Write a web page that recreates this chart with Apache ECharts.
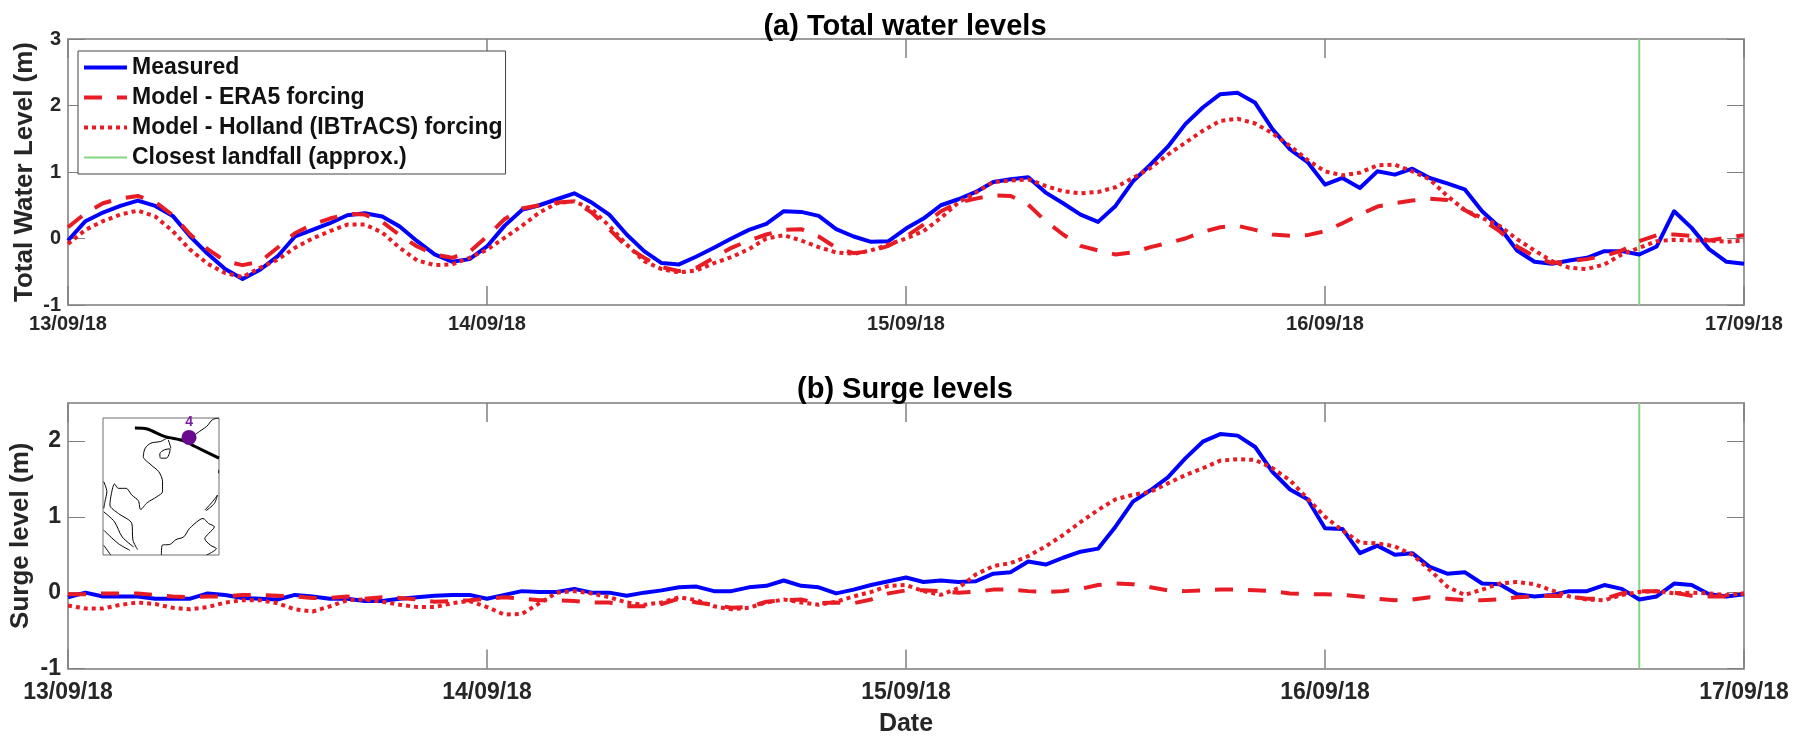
<!DOCTYPE html>
<html><head><meta charset="utf-8">
<style>html,body{margin:0;padding:0;background:#fff}#c{width:1800px;height:737px}</style>
<script src="https://cdn.jsdelivr.net/npm/echarts@6/dist/echarts.min.js"></script>
</head><body><div id="c"></div>
<script>
const tickLabels = ['13/09/18','14/09/18','15/09/18','16/09/18','17/09/18'];
const landfallHour = 90;
const measuredA = [-0.03,0.26,0.39,0.49,0.57,0.49,0.34,0.03,-0.23,-0.46,-0.61,-0.47,-0.27,0.03,0.13,0.23,0.35,0.38,0.33,0.18,-0.04,-0.24,-0.35,-0.31,-0.12,0.19,0.43,0.5,0.59,0.68,0.54,0.36,0.06,-0.19,-0.37,-0.39,-0.27,-0.14,0,0.13,0.22,0.41,0.4,0.34,0.14,0.03,-0.05,-0.04,0.15,0.3,0.5,0.59,0.7,0.85,0.89,0.92,0.69,0.53,0.36,0.25,0.49,0.86,1.11,1.38,1.72,1.97,2.17,2.19,2.04,1.64,1.34,1.15,0.81,0.91,0.76,1.01,0.96,1.05,0.91,0.83,0.74,0.41,0.17,-0.18,-0.35,-0.38,-0.33,-0.29,-0.19,-0.19,-0.24,-0.12,0.41,0.16,-0.16,-0.35,-0.38];
const era5A = [0.17,0.38,0.53,0.6,0.64,0.55,0.35,0.06,-0.16,-0.34,-0.4,-0.35,-0.14,0.08,0.21,0.3,0.37,0.36,0.25,0.05,-0.12,-0.24,-0.29,-0.2,0.03,0.29,0.45,0.5,0.54,0.56,0.39,0.14,-0.12,-0.29,-0.43,-0.49,-0.44,-0.29,-0.14,-0.03,0.06,0.13,0.14,0.03,-0.14,-0.22,-0.19,-0.11,0.03,0.21,0.41,0.54,0.6,0.65,0.64,0.51,0.26,0.06,-0.11,-0.18,-0.24,-0.21,-0.13,-0.07,0,0.1,0.17,0.19,0.13,0.06,0.04,0.05,0.11,0.23,0.36,0.48,0.53,0.57,0.6,0.58,0.43,0.28,0.11,-0.12,-0.27,-0.37,-0.34,-0.31,-0.26,-0.18,-0.04,0.05,0.06,0.04,-0.03,0.01,0.05];
const hollandA = [-0.08,0.13,0.26,0.36,0.42,0.33,0.11,-0.17,-0.38,-0.52,-0.58,-0.44,-0.32,-0.14,0,0.11,0.21,0.21,0.09,-0.14,-0.33,-0.4,-0.39,-0.29,-0.17,0.01,0.19,0.39,0.53,0.56,0.44,0.19,-0.09,-0.34,-0.46,-0.51,-0.48,-0.37,-0.28,-0.16,0,0.05,-0.03,-0.13,-0.21,-0.23,-0.18,-0.09,0,0.11,0.31,0.54,0.69,0.85,0.87,0.89,0.79,0.71,0.68,0.7,0.77,0.91,1.06,1.26,1.44,1.62,1.77,1.8,1.73,1.58,1.39,1.18,1.01,0.95,0.99,1.1,1.11,1.01,0.89,0.64,0.43,0.31,0.19,-0.01,-0.18,-0.34,-0.44,-0.46,-0.39,-0.24,-0.14,-0.04,-0.02,-0.03,-0.03,-0.05,-0.03];
const measuredB = [-0.06,0,-0.05,-0.05,-0.05,-0.08,-0.08,-0.08,-0.01,-0.03,-0.07,-0.08,-0.09,-0.03,-0.05,-0.08,-0.08,-0.11,-0.11,-0.08,-0.06,-0.04,-0.03,-0.03,-0.08,-0.03,0.02,0.01,0.01,0.05,0,0,-0.04,0,0.03,0.07,0.08,0.02,0.02,0.07,0.09,0.16,0.09,0.07,-0.01,0.04,0.1,0.15,0.2,0.14,0.16,0.14,0.15,0.25,0.27,0.41,0.37,0.46,0.54,0.58,0.87,1.2,1.35,1.52,1.77,1.99,2.09,2.07,1.92,1.59,1.36,1.23,0.85,0.84,0.52,0.62,0.5,0.52,0.34,0.25,0.27,0.12,0.11,-0.02,-0.05,-0.03,0.02,0.02,0.1,0.05,-0.09,-0.05,0.12,0.1,-0.02,-0.05,-0.02];
const era5B = [-0.02,-0.02,-0.01,-0.01,-0.01,-0.03,-0.05,-0.06,-0.05,-0.05,-0.03,-0.03,-0.04,-0.05,-0.07,-0.07,-0.05,-0.08,-0.06,-0.07,-0.09,-0.12,-0.11,-0.1,-0.08,-0.06,-0.08,-0.1,-0.1,-0.11,-0.13,-0.13,-0.18,-0.18,-0.15,-0.08,-0.13,-0.16,-0.2,-0.19,-0.12,-0.1,-0.09,-0.14,-0.13,-0.14,-0.09,-0.01,0.03,0.03,0.02,0,0.01,0.04,0.04,0.02,0.01,0.02,0.05,0.1,0.12,0.11,0.07,0.03,0.02,0.03,0.04,0.04,0.03,0.02,-0.01,-0.02,-0.02,-0.03,-0.05,-0.08,-0.1,-0.09,-0.06,-0.08,-0.1,-0.1,-0.09,-0.06,-0.05,-0.04,-0.05,-0.08,-0.08,-0.01,0.02,0.02,0,-0.04,-0.05,-0.05,-0.01];
const hollandB = [-0.17,-0.21,-0.21,-0.16,-0.13,-0.15,-0.2,-0.22,-0.19,-0.13,-0.1,-0.1,-0.14,-0.22,-0.25,-0.18,-0.1,-0.09,-0.12,-0.16,-0.19,-0.19,-0.14,-0.11,-0.19,-0.29,-0.28,-0.14,0,0.02,-0.01,-0.06,-0.13,-0.16,-0.13,-0.06,-0.1,-0.18,-0.22,-0.2,-0.13,-0.09,-0.13,-0.16,-0.12,-0.05,0.01,0.09,0.1,0.02,-0.03,0.06,0.24,0.35,0.39,0.48,0.61,0.76,0.93,1.09,1.23,1.29,1.33,1.44,1.55,1.64,1.74,1.76,1.75,1.64,1.48,1.24,1,0.82,0.66,0.65,0.61,0.5,0.3,0.08,-0.03,0.04,0.12,0.14,0.11,0.03,-0.05,-0.09,-0.1,-0.03,0.01,0.02,-0.01,0,-0.01,-0.03,-0.01];
const mapCoast = [[572,115],[555,120],[540,140],[515,160],[505,170],[480,180],[440,175],[420,185],[395,190],[380,205],[375,230],[395,255],[415,275],[425,305],[425,335],[410,350],[385,368],[368,388],[362,362],[345,345],[330,325],[310,325],[300,312],[292,340],[288,375],[310,400],[345,430],[348,480],[360,508]];
const mapHainan = [[445,207],[430,210],[418,222],[420,235],[435,235],[443,220],[445,207]];
const mapStrait = [[440,180],[447,205]];
const mapWest1 = [[272,305],[280,335],[275,365],[272,385]];
const mapWest2 = [[272,395],[300,425],[320,470],[350,500]];
const mapWest3 = [[272,450],[310,490],[340,510]];
const mapWest4 = [[272,495],[290,524]];
const mapBorneo = [[422,524],[424,495],[445,492],[460,478],[480,470],[495,445],[520,420],[530,415],[545,430],[560,440],[545,460],[535,475],[550,495],[565,505],[540,524]];
const mapPalawan = [[535,390],[555,365],[568,345],[560,370],[538,392]];
const mapEdge = [[571,270],[571,280]];
const mapTrack = [[353,145],[385,148],[430,170],[480,183],[510,200],[572,235]];
const mapStation = [[494,173]];

const FONT = '"Liberation Sans", Arial, sans-serif';
const TXT = '#262626', BOX = '#9c9c9c', TICK = '#808080';
const BLUE = '#0000ff', RED = '#e81c24', GREEN = '#83d683';
const pts = a => a.map((v, i) => [i, v]);

function panel(g, yMin, yMax, labelSize, nameText, nameSize, nameGap, xName, xMargin) {
  const axisBase = {gridIndex: g, splitLine: {show: false}};
  const yTicks = [-1,0,1,2,3].filter(v => v <= yMax);
  return {
    x: [
      {...axisBase, type: 'value', position: 'bottom', min: 0, max: 96, interval: 24,
       axisLine: {show: true, onZero: false, lineStyle: {color: BOX, width: 2}},
       axisTick: {show: true, inside: true, length: 19, lineStyle: {color: TICK, width: 1.5}},
       axisLabel: {show: true, margin: xMargin, hideOverlap: false, showMinLabel: true, showMaxLabel: true, fontFamily: FONT, fontWeight: 'bold', fontSize: labelSize, color: TXT,
         formatter: v => tickLabels[v / 24]},
       name: xName || '', nameLocation: 'middle', nameGap: 43,
       nameTextStyle: {fontFamily: FONT, fontWeight: 'bold', fontSize: 25, color: TXT}},
      {...axisBase, type: 'value', position: 'top', min: 0, max: 96, interval: 24,
       axisLine: {show: true, onZero: false, lineStyle: {color: BOX, width: 2}},
       axisTick: {show: true, inside: true, length: 19, lineStyle: {color: TICK, width: 1.5}},
       axisLabel: {show: false}}
    ],
    y: [
      {...axisBase, type: 'value', position: 'left', min: yMin, max: yMax,
       axisLine: {show: true, onZero: false, lineStyle: {color: BOX, width: 2}},
       axisTick: {show: true, inside: true, length: 17, customValues: yTicks, lineStyle: {color: TICK, width: 1}},
       axisLabel: {show: true, margin: 7, customValues: yTicks, fontFamily: FONT, fontWeight: 'bold', fontSize: labelSize, color: TXT},
       name: nameText, nameLocation: 'middle', nameGap: nameGap, nameMoveOverlap: false,
       nameTextStyle: {fontFamily: FONT, fontWeight: 'bold', fontSize: nameSize, color: TXT}},
      {...axisBase, type: 'value', position: 'right', min: yMin, max: yMax,
       axisLine: {show: true, onZero: false, lineStyle: {color: BOX, width: 2}},
       axisTick: {show: true, inside: true, length: 17, customValues: yTicks, lineStyle: {color: TICK, width: 1}},
       axisLabel: {show: false}}
    ]
  };
}
const pa = panel(0, -1, 3, 20, 'Total Water Level (m)', 26, 30, '', 9);
const pb = panel(1, -1, 2.5, 23, 'Surge level (m)', 26, 34, 'Date', 13);

function line(name, data, idx, style, z) {
  return {name, type: 'line', data: pts(data), xAxisIndex: idx * 2, yAxisIndex: idx * 2,
    showSymbol: false, symbol: 'none', smooth: false, lineStyle: style, z, silent: true};
}
const mStyle = {color: BLUE, width: 4, join: 'round'};
const eStyle = {color: RED, width: 4, type: [18, 15]};
const hStyle = {color: RED, width: 4, type: [4, 4]};
const gStyle = {color: GREEN, width: 2};
const mapAxisX = {gridIndex: 2, type: 'value', min: 270, max: 572, show: false};
const mapAxisY = {gridIndex: 2, type: 'value', min: 115, max: 524, inverse: true, show: false};
const mapLine = (data, width) => ({type: 'line', data, xAxisIndex: 4, yAxisIndex: 4, showSymbol: false, symbol: 'none',
  lineStyle: {color: '#000', width}, z: 12, silent: true, clip: true, smooth: 0.3});
const N = ['Measured', 'Model - ERA5 forcing', 'Model - Holland (IBTrACS) forcing', 'Closest landfall (approx.)'];

const chart = echarts.init(document.getElementById('c'), null, {renderer: 'canvas'});
chart.setOption({
  animation: false,
  backgroundColor: '#fff',
  title: [
    {text: '(a) Total water levels', left: 900, top: 7, textAlign: 'center',
     textStyle: {fontFamily: FONT, fontWeight: 'bold', fontSize: 29, color: '#000'}},
    {text: '(b) Surge levels', left: 900, top: 370, textAlign: 'center',
     textStyle: {fontFamily: FONT, fontWeight: 'bold', fontSize: 29, color: '#000'}}
  ],
  grid: [
    {left: 68, top: 39, width: 1676, height: 266, containLabel: false, outerBoundsMode: 'none'},
    {left: 68, top: 403, width: 1676, height: 265.5, containLabel: false, outerBoundsMode: 'none'},
    {left: 103, top: 418, width: 116, height: 137, show: true, backgroundColor: '#fff', borderColor: '#6e6e6e', borderWidth: 1, z: 11, outerBoundsMode: 'none'}
  ],
  xAxis: [...pa.x, ...pb.x, mapAxisX],
  yAxis: [...pa.y, ...pb.y, mapAxisY],
  legend: {
    left: 78, top: 51, orient: 'vertical', selectedMode: false,
    data: [
      {name: N[0], lineStyle: {width: 4}},
      {name: N[1], lineStyle: {width: 4}},
      {name: N[2], lineStyle: {width: 4}},
      {name: N[3], lineStyle: {width: 2}}
    ],
    itemStyle: {opacity: 0},
    padding: [5, 3, 5, 4], itemGap: 7, itemWidth: 43, itemHeight: 22,
    backgroundColor: '#fff', borderColor: '#444', borderWidth: 1, z: 20,
    textStyle: {fontFamily: FONT, fontWeight: 'bold', fontSize: 23, color: '#111'}
  },
  series: [
    line(N[0], measuredA, 0, mStyle, 5),
    line(N[1], era5A, 0, eStyle, 6),
    line(N[2], hollandA, 0, hStyle, 7),
    {name: N[3], type: 'line', data: [[landfallHour, -1], [landfallHour, 3]], xAxisIndex: 0, yAxisIndex: 0, showSymbol: false, symbol: 'none', lineStyle: gStyle, z: 4, silent: true},
    line(N[0], measuredB, 1, mStyle, 5),
    line(N[1], era5B, 1, eStyle, 6),
    line(N[2], hollandB, 1, hStyle, 7),
    {name: N[3], type: 'line', data: [[landfallHour, -1], [landfallHour, 2.5]], xAxisIndex: 2, yAxisIndex: 2, showSymbol: false, symbol: 'none', lineStyle: gStyle, z: 4, silent: true},
    mapLine(mapCoast, 1), mapLine(mapHainan, 1), mapLine(mapStrait, 1), mapLine(mapWest1, 1), mapLine(mapWest2, 1),
    mapLine(mapWest3, 1), mapLine(mapWest4, 1), mapLine(mapBorneo, 1), mapLine(mapPalawan, 1), mapLine(mapEdge, 1),
    mapLine(mapTrack, 3),
    {type: 'scatter', data: mapStation, xAxisIndex: 4, yAxisIndex: 4, symbolSize: 15, z: 13, silent: true,
     itemStyle: {color: '#6a0a8e', opacity: 1},
     label: {show: true, position: 'top', distance: 1, formatter: '4', color: '#7a1fa2', fontFamily: FONT, fontWeight: 'bold', fontSize: 14}}
  ]
});
</script></body></html>
